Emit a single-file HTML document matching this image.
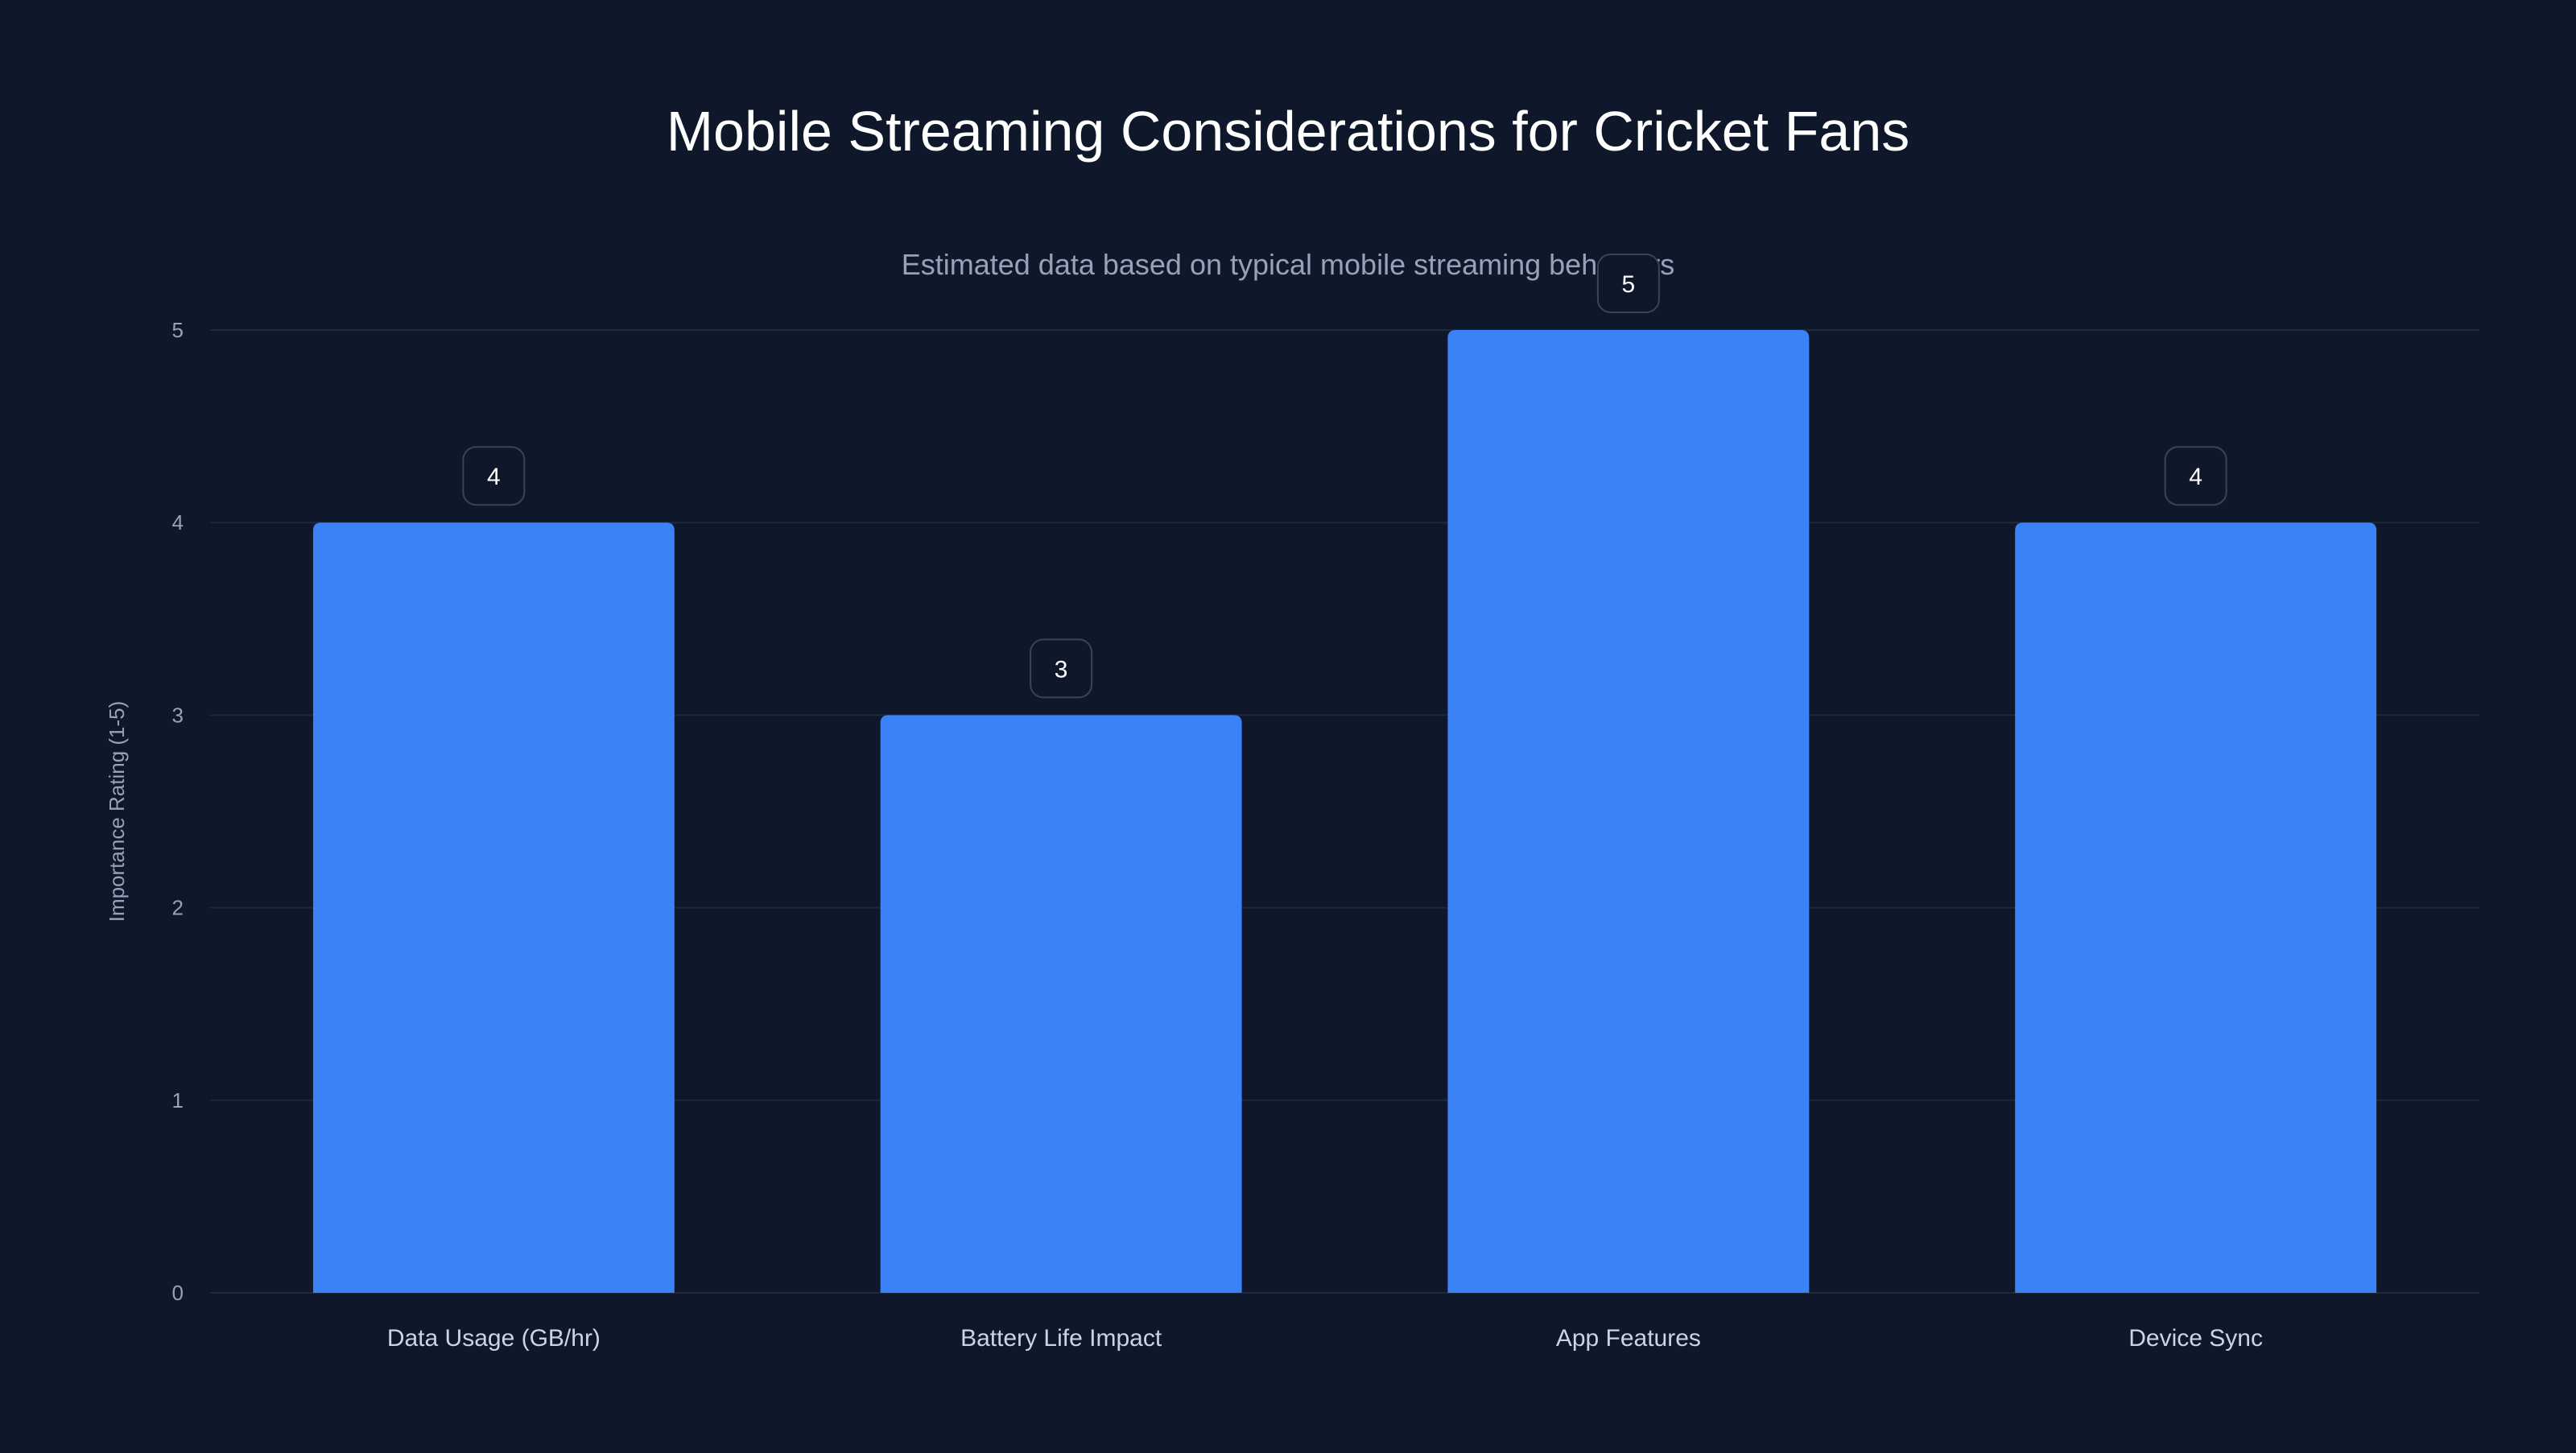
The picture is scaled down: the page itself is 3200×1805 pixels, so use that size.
<!DOCTYPE html>
<html><head><meta charset="utf-8">
<style>
html,body{margin:0;padding:0;background:#0f172a;}
body{width:3200px;height:1800px;overflow:hidden;font-family:"Liberation Sans",sans-serif;}
</style></head>
<body>
<svg id="chart" width="3200" height="1800" xmlns="http://www.w3.org/2000/svg">
<rect width="3200" height="1800" fill="#0f172a"/>
<text x="1600" y="187" text-anchor="middle" fill="#ffffff" font-size="70" font-family="Liberation Sans, sans-serif">Mobile Streaming Considerations for Cricket Fans</text>
<text x="1600" y="341" text-anchor="middle" fill="#94a3b8" font-size="36" font-family="Liberation Sans, sans-serif">Estimated data based on typical mobile streaming behaviors</text>
<text transform="translate(154,1008) rotate(-90)" text-anchor="middle" fill="#94a3b8" font-size="26" font-family="Liberation Sans, sans-serif">Importance Rating (1-5)</text>
<g id="grid"></g><g id="bars"></g><g id="labels"></g>
</svg>
<script>
const categories = ["Data Usage (GB/hr)", "Battery Life Impact", "App Features", "Device Sync"];
const values = [4, 3, 5, 4];
const yTicks = [0, 1, 2, 3, 4, 5];

const NS = "http://www.w3.org/2000/svg";
const plotLeft = 261, plotRight = 3080, plotTop = 410, plotBottom = 1606, yMax = 5;
const yScale = v => plotBottom - (v / yMax) * (plotBottom - plotTop);
const band = (plotRight - plotLeft) / categories.length;
const xc = i => plotLeft + band * (i + 0.5);
const bw = band * 0.637;
function mk(tag, attrs, parent) {
  const e = document.createElementNS(NS, tag);
  for (const k in attrs) e.setAttribute(k, attrs[k]);
  parent.appendChild(e);
  return e;
}
const grid = document.getElementById('grid');
yTicks.forEach(t => {
  const l = mk('line', {x1: plotLeft, x2: plotRight, y1: yScale(t), y2: yScale(t), stroke: '#1e293b', 'stroke-width': 2}, grid);
  
  
  const tx = mk('text', {x: 228, y: yScale(t) + 9, 'text-anchor': 'end', fill: '#94a3b8', 'font-size': 26}, grid);
  tx.textContent = t;
  
  
});
const bars = document.getElementById('bars');
const labels = document.getElementById('labels');
values.forEach((v, i) => {
  const cx = xc(i), yt = yScale(v);
  const r = 10;
  const p = mk('path', {d: `M${cx-bw/2},${plotBottom} V${yt+r} Q${cx-bw/2},${yt} ${cx-bw/2+r},${yt} H${cx+bw/2-r} Q${cx+bw/2},${yt} ${cx+bw/2},${yt+r} V${plotBottom} Z`, fill: '#3b82f6'}, bars);
  
  
  const bx = mk('rect', {x: cx - 38, y: yt - 94, width: 76, height: 72, rx: 16, fill: '#0f172a', stroke: '#3b4456', 'stroke-width': 2}, labels);
  
  
  const vt = mk('text', {x: cx, y: yt - 47, 'text-anchor': 'middle', fill: '#ffffff', 'font-size': 30}, labels);
  vt.textContent = v;
  
  
  const ct = mk('text', {x: cx, y: 1672, 'text-anchor': 'middle', fill: '#cbd5e1', 'font-size': 30}, labels);
  ct.textContent = categories[i];
  
  
});
</script>
</body></html>
